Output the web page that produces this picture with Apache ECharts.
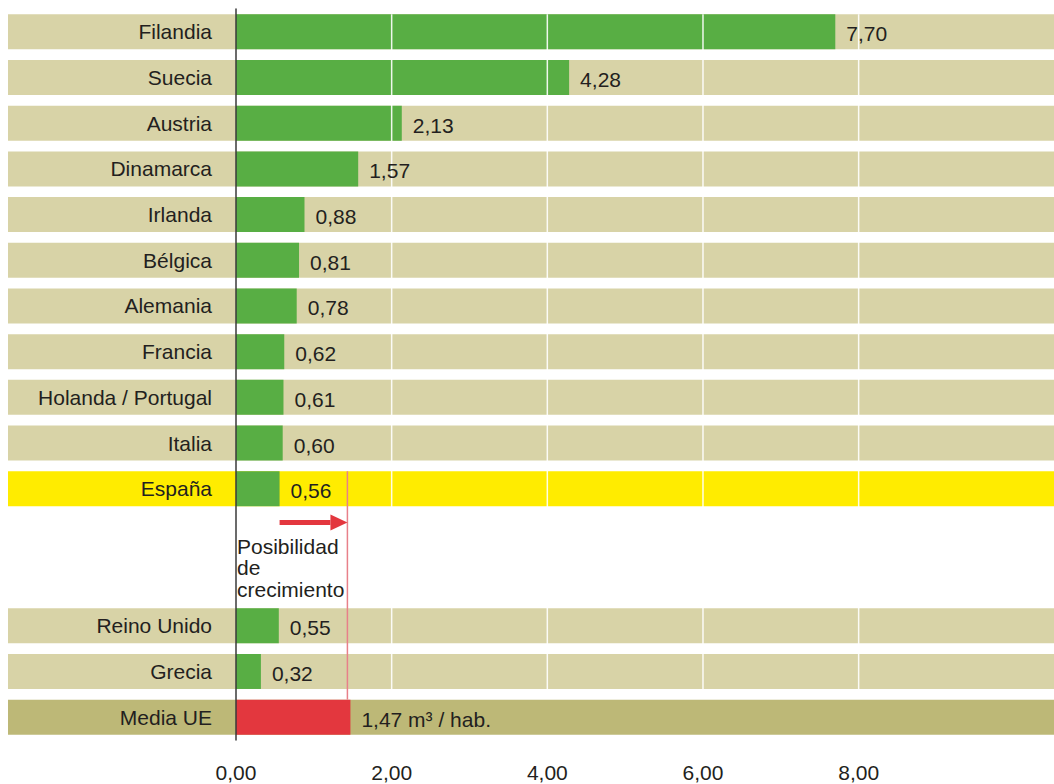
<!DOCTYPE html>
<html>
<head>
<meta charset="utf-8">
<title>Consumo de madera por habitante</title>
<script src="https://cdn.jsdelivr.net/npm/echarts@6/dist/echarts.min.js"></script>
<style>
  html, body { margin: 0; padding: 0; background: #fff; }
  #main { width: 1054px; height: 784px; }
</style>
</head>
<body>
<div id="main"></div>
<script>
// datos (las dos filas vacias son el hueco bajo España)
var categories = ['Filandia', 'Suecia', 'Austria', 'Dinamarca', 'Irlanda', 'Bélgica', 'Alemania', 'Francia',
  'Holanda / Portugal', 'Italia', 'España', ' ', '  ', 'Reino Unido', 'Grecia', 'Media UE'];
var values = [7.70, 4.28, 2.13, 1.57, 0.88, 0.81, 0.78, 0.62, 0.61, 0.60, 0.56, null, null, 0.55, 0.32, 1.47];
var tickValues = [0, 2, 4, 6, 8];
var gridValues = [2, 4, 6, 8];
var growthFrom = 0.56;   // España
var growthTo = 1.47;     // Media UE
var growthText = 'Posibilidad\nde\ncrecimiento';
var unitText = ' m³ / hab.';

var xMax = 10.51;

var FONT = "'Liberation Sans', Arial, sans-serif";
var TEXT = '#231f20';

function isBlank(name) {
  return name.trim() === '';
}
function bandColor(name) {
  if (name === 'España') return '#ffec00';
  if (name === 'Media UE') return '#bdb877';
  return '#d8d3a7';
}
function fmt(v) {
  return v.toFixed(2).replace('.', ',');
}

var chart = echarts.init(document.getElementById('main'), null, { renderer: 'svg' });

// fondo de cada fila: la parte de los nombres (grid 1) y la parte de las barras (grid 0)
var bandLeft = categories.map(function (c) {
  return isBlank(c) ? '-' : { value: 1, itemStyle: { color: bandColor(c) } };
});
var bandRight = categories.map(function (c) {
  return isBlank(c) ? '-' : { value: xMax, itemStyle: { color: bandColor(c) } };
});
var barData = values.map(function (v, i) {
  if (v == null) return '-';
  return { value: v, itemStyle: { color: categories[i] === 'Media UE' ? '#e3373e' : '#58ae44' } };
});
var labelData = values.map(function (v) {
  return v == null ? '-' : v;
});

var idxFirst = categories.indexOf('Filandia');
var idxGrecia = categories.indexOf('Grecia');
var idxEsp = categories.indexOf('España');
var idxMedia = categories.indexOf('Media UE');
var idxGap = idxEsp + 1;

var option = {
  animation: false,
  grid: [
    { left: 236, right: 0, top: 9, height: 731, containLabel: false, outerBoundsMode: 'none' },
    { left: 8, width: 228, top: 9, height: 731, containLabel: false, outerBoundsMode: 'none' }
  ],
  xAxis: [
    {
      type: 'value',
      gridIndex: 0,
      min: 0,
      max: xMax,
      axisLine: { show: false },
      axisTick: { show: false },
      splitLine: { show: false },
      axisLabel: {
        customValues: tickValues,
        formatter: function (v) { return fmt(v); },
        margin: 22,
        fontSize: 21,
        fontFamily: FONT,
        color: TEXT
      }
    },
    { type: 'value', gridIndex: 1, min: 0, max: 1, show: false }
  ],
  yAxis: [
    {
      type: 'category',
      gridIndex: 0,
      inverse: true,
      z: 10,
      data: categories,
      axisLine: { show: true, lineStyle: { color: '#3a3a3a', width: 1.5 } },
      axisTick: { show: false },
      splitLine: { show: false },
      axisLabel: {
        margin: 24,
        fontSize: 21,
        fontFamily: FONT,
        color: TEXT
      }
    },
    { type: 'category', gridIndex: 1, inverse: true, data: categories, show: false }
  ],
  series: [
    {
      name: 'fondoIzq',
      type: 'bar',
      xAxisIndex: 1,
      yAxisIndex: 1,
      barWidth: 35,
      silent: true,
      z: 1,
      data: bandLeft
    },
    {
      name: 'fondoDer',
      type: 'bar',
      barWidth: 35,
      barGap: '-100%',
      silent: true,
      z: 1,
      data: bandRight
    },
    {
      name: 'consumo',
      type: 'bar',
      barWidth: 35,
      barGap: '-100%',
      z: 2,
      data: barData
    },
    {
      // lineas blancas de la rejilla, por encima de las barras
      name: 'rejilla',
      type: 'custom',
      silent: true,
      z: 3,
      encode: { x: 0, y: 1 },
      data: gridValues.map(function (v) { return [v, idxFirst]; }),
      renderItem: function (params, api) {
        var half = api.size([0, 1])[1] * 0.383;
        var top = api.coord([api.value(0), idxFirst]);
        var bot = api.coord([api.value(0), idxGrecia]);
        return {
          type: 'line',
          shape: { x1: top[0], y1: top[1] - half, x2: bot[0], y2: bot[1] + half },
          style: { stroke: '#ffffff', lineWidth: 1.5, opacity: 0.9 }
        };
      }
    },
    {
      // solo las etiquetas, encima de la rejilla
      name: 'etiquetas',
      type: 'bar',
      barWidth: 35,
      barGap: '-100%',
      silent: true,
      z: 4,
      itemStyle: { color: 'rgba(0,0,0,0)' },
      data: labelData,
      label: {
        show: true,
        position: 'right',
        distance: 11,
        offset: [0, 2],
        fontSize: 21,
        fontFamily: FONT,
        color: TEXT,
        formatter: function (p) {
          return fmt(p.value) + (p.name === 'Media UE' ? unitText : '');
        }
      }
    },
    {
      // flecha y texto "Posibilidad de crecimiento"
      name: 'crecimiento',
      type: 'custom',
      silent: true,
      z: 6,
      encode: { x: [0, 1], y: 2 },
      data: [[growthFrom, growthTo, idxGap]],
      renderItem: function (params, api) {
        var band = api.size([0, 1])[1];
        var half = band * 0.383;
        var esp = api.coord([api.value(1), idxEsp]);
        var media = api.coord([api.value(1), idxMedia]);
        var start = api.coord([api.value(0), idxGap]);
        var zero = api.coord([0, idxGap]);
        var ay = start[1] - 12;
        var tip = esp[0] - 3;
        return {
          type: 'group',
          children: [
            {
              type: 'line',
              shape: { x1: tip, y1: esp[1] - half, x2: tip, y2: media[1] - half },
              style: { stroke: '#e8808a', lineWidth: 1.5 }
            },
            {
              type: 'rect',
              shape: { x: start[0], y: ay - 2.5, width: tip - 17 - start[0], height: 5 },
              style: { fill: '#e3373e' }
            },
            {
              type: 'polygon',
              shape: { points: [[tip - 17, ay - 8], [tip, ay], [tip - 17, ay + 8]] },
              style: { fill: '#e3373e' }
            },
            {
              type: 'text',
              x: zero[0] + 1,
              y: start[1] + 1,
              style: {
                text: growthText,
                fill: TEXT,
                font: '21px ' + FONT,
                lineHeight: 21.5,
                verticalAlign: 'top',
                align: 'left'
              }
            }
          ]
        };
      }
    }
  ]
};

chart.setOption(option);
</script>
</body>
</html>
